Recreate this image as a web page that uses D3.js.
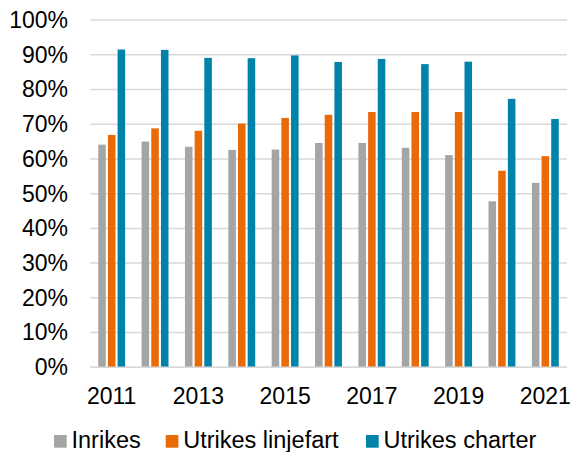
<!DOCTYPE html>
<html>
<head>
<meta charset="utf-8">
<script src="https://cdn.jsdelivr.net/npm/d3@7"></script>
<style>
  body { margin: 0; background: #fff; }
  svg { display: block; }
  text { font-family: "Liberation Sans", Arial, sans-serif; fill: #000; }
</style>
</head>
<body>
<svg id="chart" width="573" height="452"></svg>
<script>
const years = ["2011","2012","2013","2014","2015","2016","2017","2018","2019","2020","2021"];
const seriesNames = ["Inrikes", "Utrikes linjefart", "Utrikes charter"];
const inrikes = [64.1, 65.0, 63.5, 62.6, 62.7, 64.6, 64.6, 63.2, 61.1, 47.8, 53.1];
const linjefart = [66.9, 68.8, 68.1, 70.2, 71.8, 72.7, 73.5, 73.5, 73.5, 56.6, 60.8];
const charter = [91.5, 91.4, 89.1, 89.0, 89.8, 87.9, 88.8, 87.3, 88.0, 77.3, 71.5];
const yTicks = [0, 10, 20, 30, 40, 50, 60, 70, 80, 90, 100];
const xTickLabels = ["2011", "2013", "2015", "2017", "2019", "2021"];
const colors = ["#A5A5A5", "#EA6A08", "#0083A9"];

const seriesValues = [inrikes, linjefart, charter];
const svg = d3.select("#chart");
const m = { left: 90, right: 6, top: 20, bottom: 85 };
const plotR = 567, plotB = 367.3;

const x = d3.scaleBand().domain(years).range([m.left, plotR]).paddingInner(0.38).paddingOuter(0.19);
const xs = d3.scaleBand().domain(seriesNames).range([0, x.bandwidth()]).paddingInner(0.22);
const y = d3.scaleLinear().domain([0, 100]).range([plotB, m.top]);

// gridlines
svg.append("g").selectAll("line").data(yTicks).join("line")
  .attr("x1", m.left).attr("x2", plotR)
  .attr("y1", d => y(d)).attr("y2", d => y(d))
  .attr("stroke", "#D9D9D9").attr("stroke-width", 1.5);

// bars
const groups = svg.append("g").selectAll("g").data(years).join("g")
  .attr("transform", d => `translate(${x(d)},0)`);
groups.selectAll("rect").data((d, i) => seriesNames.map((s, j) => ({ s, v: seriesValues[j][i], j })))
  .join("rect")
  .attr("x", d => xs(d.s))
  .attr("width", xs.bandwidth())
  .attr("y", d => y(d.v))
  .attr("height", d => plotB - y(d.v))
  .attr("fill", d => colors[d.j]);

// y axis labels
const yAxis = d3.axisLeft(y).tickValues(yTicks).tickFormat(d => d + "%").tickSize(0).tickPadding(0);
const gy = svg.append("g").attr("transform", "translate(68,0)").call(yAxis);
gy.select(".domain").remove();
gy.selectAll("text").attr("font-size", 23).attr("font-family", "Liberation Sans, Arial, sans-serif").attr("fill", "#000");

// x axis
const xAxis = d3.axisBottom(x).tickValues(xTickLabels).tickSize(0).tickPadding(0);
const gx = svg.append("g").attr("transform", `translate(0,${plotB})`).call(xAxis);
gx.select(".domain").remove();
gx.selectAll("text").attr("font-size", 23).attr("font-family", "Liberation Sans, Arial, sans-serif")
  .attr("fill", "#000").attr("dy", null).attr("y", 37);

// baseline
svg.append("line").attr("x1", m.left).attr("x2", plotR).attr("y1", plotB).attr("y2", plotB)
  .attr("stroke", "#D9D9D9").attr("stroke-width", 1.5);

// legend
const legendX = [54, 165.7, 366];
const lg = svg.append("g").selectAll("g").data(seriesNames).join("g")
  .attr("transform", (d, i) => `translate(${legendX[i]},0)`);
lg.append("rect").attr("x", 0).attr("y", 435).attr("width", 12.7).attr("height", 12.7)
  .attr("fill", (d, i) => colors[i]);
lg.append("text").attr("x", 17.5).attr("y", 448).attr("font-size", 23.5).text(d => d);
</script>
</body>
</html>
